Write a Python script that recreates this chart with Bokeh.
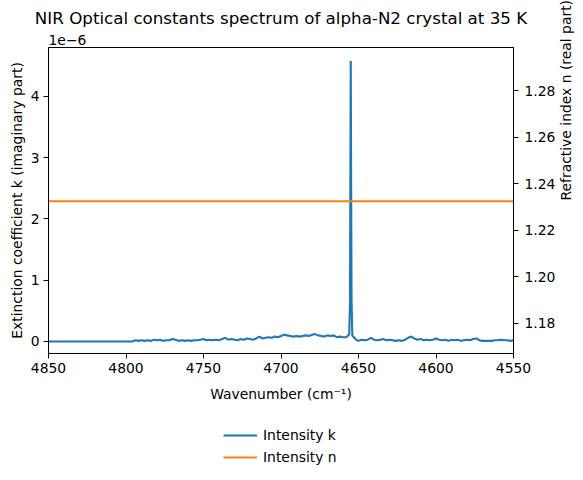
import math
from bokeh.plotting import figure
from bokeh.layouts import column
from bokeh.models import Range1d, LinearAxis, FixedTicker, Legend, LegendItem, Title, NumeralTickFormatter
from bokeh.embed import file_html
from bokeh.resources import INLINE

# ---- data ----
wavenumber = [4850, 4796, 4794, 4792, 4790, 4788, 4786, 4784, 4782, 4780, 4778, 4776, 4774, 4772, 4770,
              4768, 4766, 4764, 4762, 4760, 4758, 4756, 4754, 4752, 4750, 4748, 4746, 4744, 4742, 4740,
              4738, 4736, 4734, 4732, 4730, 4728, 4726, 4724, 4722, 4720, 4718, 4716, 4714, 4712, 4710,
              4708, 4706, 4704, 4702, 4700, 4698, 4696, 4694, 4692, 4690, 4688, 4686, 4684, 4682, 4680,
              4678, 4676, 4674, 4672, 4670, 4668, 4666, 4664, 4662, 4660, 4658, 4657, 4656, 4655.5, 4655,
              4654.5, 4654, 4653, 4652, 4651, 4650, 4648, 4646, 4644, 4642, 4640, 4638, 4636, 4634, 4632,
              4630, 4628, 4626, 4624, 4622, 4620, 4618, 4616, 4614, 4612, 4610, 4608, 4606, 4604, 4602,
              4600, 4598, 4596, 4594, 4592, 4590, 4588, 4586, 4584, 4582, 4580, 4578, 4576, 4574, 4572,
              4570, 4568, 4566, 4564, 4562, 4560, 4558, 4556, 4554, 4552, 4550]
k_1e6 = [0.0, 0.0, 0.02, 0.01, 0.02, 0.01, 0.02, 0.01, 0.03, 0.02, 0.03, 0.01, 0.02, 0.02, 0.04,
         0.03, 0.01, 0.02, 0.01, 0.02, 0.01, 0.02, 0.02, 0.03, 0.04, 0.02, 0.03, 0.02, 0.03, 0.02,
         0.04, 0.06, 0.03, 0.04, 0.03, 0.02, 0.04, 0.03, 0.05, 0.04, 0.03, 0.05, 0.08, 0.05, 0.06,
         0.07, 0.06, 0.08, 0.07, 0.09, 0.11, 0.10, 0.09, 0.08, 0.09, 0.08, 0.09, 0.10, 0.09, 0.11,
         0.12, 0.10, 0.09, 0.08, 0.10, 0.09, 0.10, 0.07, 0.08, 0.07, 0.07, 0.09, 0.12, 0.60, 4.58,
         0.70, 0.10, 0.07, 0.04, 0.02, 0.01, 0.03, 0.02, 0.03, 0.06, 0.03, 0.02, 0.03, 0.04, 0.02,
         0.03, 0.02, 0.01, 0.02, 0.01, 0.03, 0.06, 0.08, 0.05, 0.03, 0.04, 0.02, 0.03, 0.02, 0.03,
         0.05, 0.03, 0.02, 0.03, 0.01, 0.03, 0.02, 0.03, 0.01, 0.02, 0.03, 0.02, 0.04, 0.05, 0.02,
         0.01, 0.01, 0.01, 0.01, 0.02, 0.02, 0.03, 0.02, 0.02, 0.01, 0.02]
n_wavenumber = [4850, 4550]
n_values = [1.2325, 1.2325]

x_ticks = [4850, 4800, 4750, 4700, 4650, 4600, 4550]
k_ticks = [0, 1, 2, 3, 4]
n_ticks = [1.18, 1.20, 1.22, 1.24, 1.26, 1.28]
legend_labels = ["Intensity k", "Intensity n"]

title_text = "NIR Optical constants spectrum of alpha-N2 crystal at 35 K"
offset_text = "1e\u22126"
n_label = "Refractive index n (real part)"
FONT = "DejaVu Sans"
TICK = "13.9px"
BLUE, ORANGE = "#1f77b4", "#ff7f0e"

p = figure(frame_width=465, frame_height=306, output_backend="svg", toolbar_location=None,
           x_range=Range1d(4850, 4550), y_range=Range1d(-0.196, 4.80),
           min_border_left=48, min_border_right=68, min_border_top=47, min_border_bottom=55,
           title=None)
p.extra_y_ranges = {"n": Range1d(1.1671, 1.2985)}

t_off = Title(text=offset_text, align="left", text_font=FONT, text_font_size=TICK,
              text_font_style="normal", text_color="black", standoff=6)
p.add_layout(t_off, "above")
t_main = Title(text=title_text, align="center", text_font=FONT, text_font_size="16.7px",
               text_font_style="normal", text_color="black", standoff=3)
p.add_layout(t_main, "above")

p.xgrid.visible = False
p.ygrid.visible = False
p.outline_line_color = "black"
p.outline_line_width = 1
p.background_fill_color = "white"
p.border_fill_color = "white"

def style_axis(ax):
    ax.axis_line_color = "black"
    ax.major_tick_line_color = "black"
    ax.minor_tick_line_color = None
    ax.major_tick_out = 5
    ax.major_tick_in = 0
    ax.major_label_standoff = 4
    ax.major_label_text_font = FONT
    ax.major_label_text_font_size = TICK
    ax.major_label_text_color = "black"
    ax.axis_label_text_font = FONT
    ax.axis_label_text_font_size = TICK
    ax.axis_label_text_font_style = "normal"
    ax.axis_label_text_color = "black"
    ax.axis_label_standoff = 6

xa = p.xaxis[0]
style_axis(xa)
xa.ticker = FixedTicker(ticks=x_ticks)
xa.axis_label = "Wavenumber (cm\u207b\u00b9)"
xa.axis_label_standoff = 10

ya = p.yaxis[0]
style_axis(ya)
ya.ticker = FixedTicker(ticks=k_ticks)
ya.axis_label = "Extinction coefficient k (imaginary part)"
ya.axis_label_standoff = 3

ra = LinearAxis(y_range_name="n")
style_axis(ra)
ra.ticker = FixedTicker(ticks=n_ticks)
ra.formatter = NumeralTickFormatter(format="0.00")
ra.major_label_standoff = 6
ra.axis_label = n_label
ra.axis_label_standoff = 8
try:
    ra.axis_label_orientation = math.pi / 2
except Exception:
    pass
p.add_layout(ra, "right")

p.line(wavenumber, k_1e6, line_color=BLUE, line_width=2.1)
p.line(n_wavenumber, n_values, line_color=ORANGE, line_width=2.1, y_range_name="n")

# legend strip below the chart (its lines lie outside this strip's view; only the legend shows)
q = figure(width=575, height=64, output_backend="svg", toolbar_location=None,
           x_range=Range1d(0, 1), y_range=Range1d(0, 1),
           min_border_left=0, min_border_right=0, min_border_top=0, min_border_bottom=0,
           x_axis_location=None, y_axis_location=None, title=None)
q.xgrid.visible = False
q.ygrid.visible = False
q.outline_line_color = None
lk = q.line(wavenumber, k_1e6, line_color=BLUE, line_width=2.1)
ln = q.line(n_wavenumber, n_values, line_color=ORANGE, line_width=2.1)

legend = Legend(items=[LegendItem(label=legend_labels[0], renderers=[lk]),
                       LegendItem(label=legend_labels[1], renderers=[ln])],
                location=(175, 5), orientation="vertical")
legend.border_line_color = None
legend.background_fill_alpha = 0
legend.label_text_font = FONT
legend.label_text_font_size = TICK
legend.label_text_color = "black"
legend.glyph_width = 34
legend.glyph_height = 20
legend.spacing = 2
legend.margin = 0
legend.padding = 4
legend.label_standoff = 6
q.add_layout(legend, "center")

layout = column(p, q, spacing=0)
open("out.html", "w").write(file_html(layout, INLINE))
